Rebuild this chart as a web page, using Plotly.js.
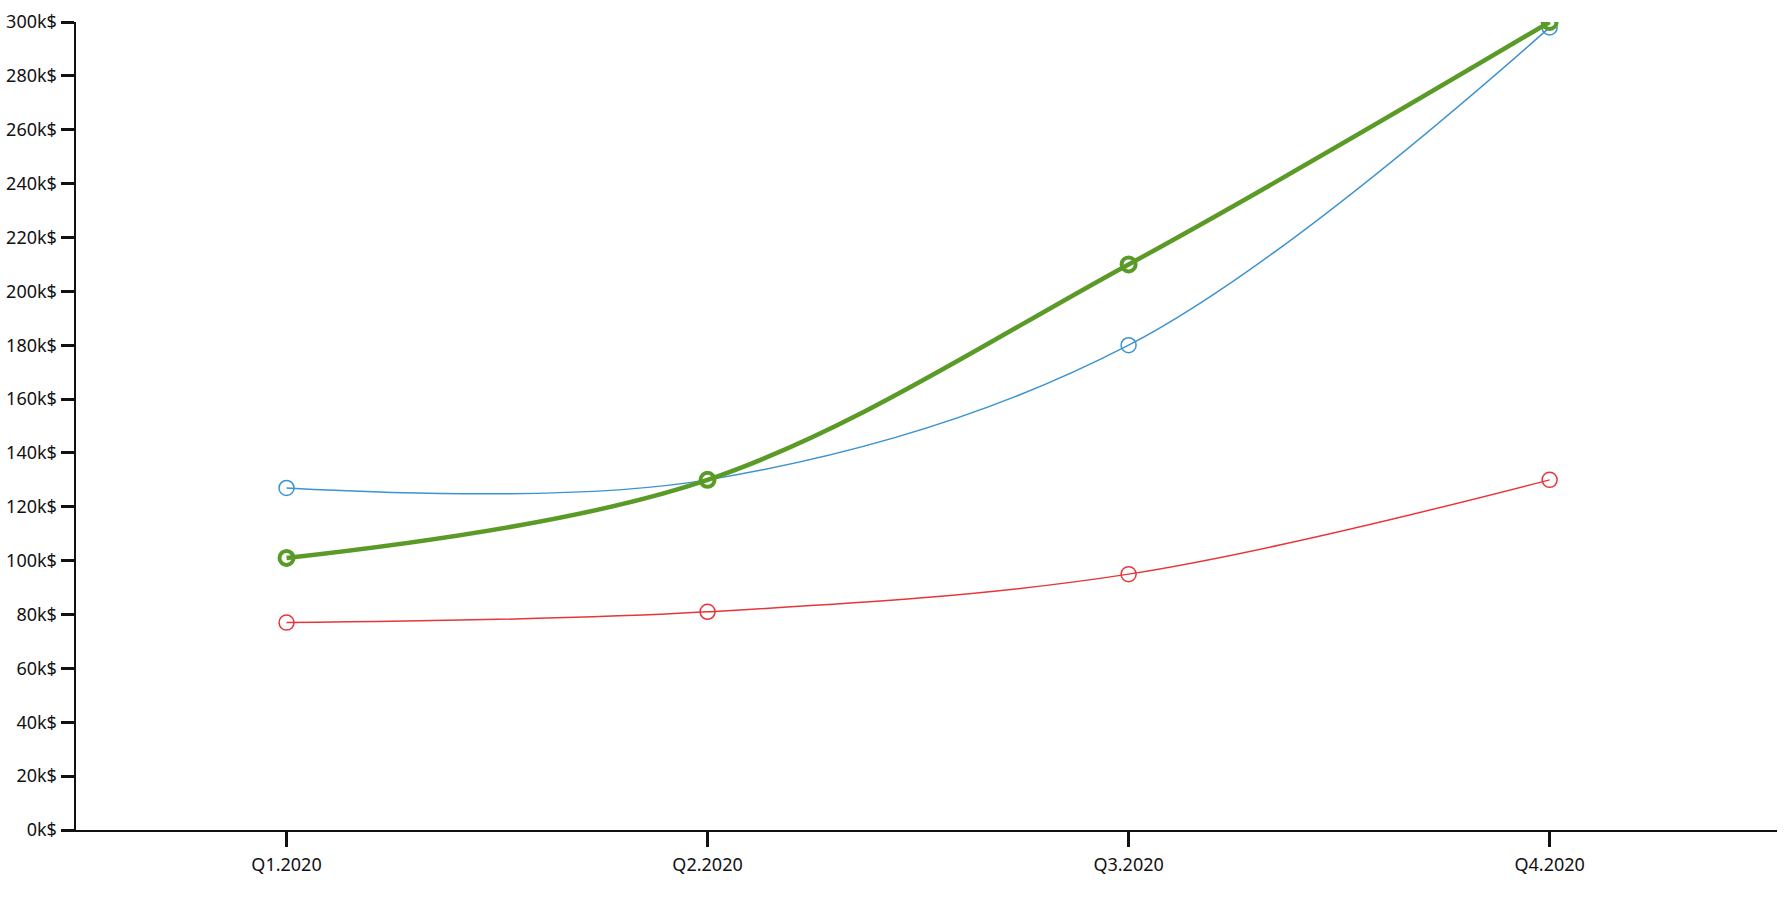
<!DOCTYPE html>
<html>
<head>
<meta charset="utf-8">
<script src="https://cdn.plot.ly/plotly-3.0.1.min.js"></script>
<style>html,body{margin:0;padding:0;background:#fff;}#chart{width:1786px;height:897px;}</style>
</head>
<body>
<div id="chart"></div>
<script>
const quarters = ["Q1.2020", "Q2.2020", "Q3.2020", "Q4.2020"];
const blueValues = [127000, 130000, 180000, 298000];
const greenValues = [101000, 130000, 210000, 300000];
const redValues = [77000, 81000, 95000, 130000];
const yTickVals = [0,20000,40000,60000,80000,100000,120000,140000,160000,180000,200000,220000,240000,260000,280000,300000];
const yTickText = yTickVals.map(v => (v/1000) + "k$");

const traces = [
  {x: quarters, y: redValues, type: "scatter", mode: "lines+markers",
   line: {color: "#e8353a", width: 1.5, shape: "spline"},
   marker: {symbol: "circle-open", size: 15, color: "#e8353a", line: {width: 1.5}}},
  {x: quarters, y: blueValues, type: "scatter", mode: "lines+markers",
   line: {color: "#3d93cf", width: 1.5, shape: "spline"},
   marker: {symbol: "circle-open", size: 15, color: "#3d93cf", line: {width: 1.5}}},
  {x: quarters, y: greenValues, type: "scatter", mode: "lines+markers",
   line: {color: "#5a9a26", width: 4.5, shape: "spline"},
   marker: {symbol: "circle-open", size: 14, color: "#5a9a26", line: {width: 4}}}
];

const layout = {
  width: 1786, height: 897,
  margin: {l: 76, r: 9, t: 22, b: 67},
  paper_bgcolor: "#fff", plot_bgcolor: "#fff",
  showlegend: false,
  font: {family: "Noto Sans, DejaVu Sans, sans-serif", size: 18, color: "#111"},
  xaxis: {
    type: "category", range: [-0.5, 3.54],
    showgrid: false, zeroline: false,
    showline: true, linecolor: "#111", linewidth: 2,
    ticks: "outside", ticklen: 15, tickwidth: 3, tickcolor: "#111",
    tickfont: {size: 18}, ticklabelstandoff: 2
  },
  yaxis: {
    range: [0, 300000],
    tickvals: yTickVals, ticktext: yTickText,
    showgrid: false, zeroline: false,
    showline: true, linecolor: "#111", linewidth: 2.5,
    ticks: "outside", ticklen: 13, tickwidth: 3, tickcolor: "#111",
    tickfont: {size: 18}, ticklabelstandoff: 0
  }
};

Plotly.newPlot("chart", traces, layout, {displayModeBar: false, staticPlot: true});
</script>
</body>
</html>
